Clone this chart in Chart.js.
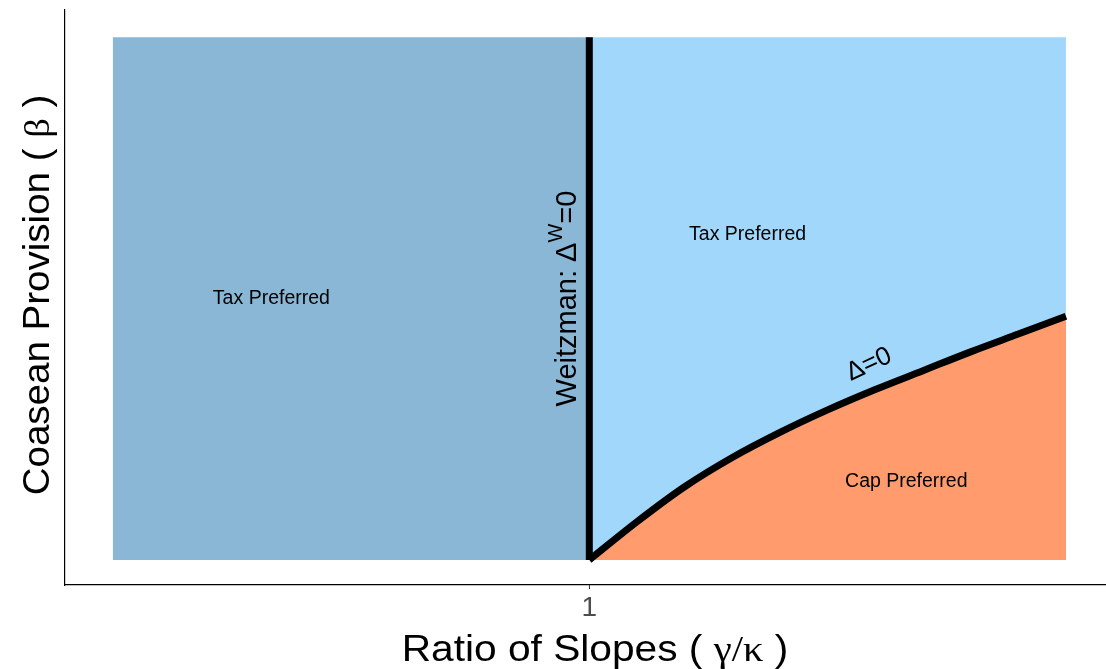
<!DOCTYPE html>
<html>
<head>
<meta charset="utf-8">
<title>Tax vs Cap</title>
<script src="https://cdn.jsdelivr.net/npm/chart.js@4.4.1/dist/chart.umd.min.js"></script>
<style>
  body { margin: 0; background: #fff; }
  #grafico { display: block; }
</style>
</head>
<body>
<canvas id="grafico" width="1106" height="669"></canvas>
<script>
// regiones del diagrama (x = gamma/kappa, y = beta)
const regionIzqX = [0, 1];
const regionDerX = [1, 2];
const techoRegion = 1;

// frontera Delta = 0
const curvaX = [1.0, 1.1, 1.2, 1.3, 1.4, 1.5, 1.6, 1.7, 1.8, 1.9, 2.0];
const curvaY = [0.0, 0.073, 0.140, 0.196, 0.244, 0.287, 0.326, 0.362, 0.398, 0.432, 0.466];

// linea de Weitzman
const weitzmanX = [1, 1];
const weitzmanY = [0, 1];

const ticksX = [1];

// etiquetas dentro del grafico: [texto, x, y]
const etiquetas = [
    ['Tax Preferred', 0.333, 0.499],
    ['Tax Preferred', 1.332, 0.623],
    ['Cap Preferred', 1.665, 0.149]
];

const colorIzq = '#8AB7D6';
const colorDer = '#A0D7FB';
const colorCap = '#FF9B6D';

const SANS = '"Liberation Sans", Arial, sans-serif';
const SERIF = '"Liberation Serif", "DejaVu Serif", serif';

// dibuja trozos de texto con fuentes distintas uno tras otro, centrados en (cx, cy)
function textoMixto(ctx, trozos, cx, cy, sx = 1) {
    let total = 0;
    trozos.forEach(t => { ctx.font = t.font; total += ctx.measureText(t.txt).width; });
    ctx.save();
    ctx.translate(cx, cy);
    ctx.scale(sx, 1);
    let x = -total / 2;
    trozos.forEach(t => {
        ctx.font = t.font;
        ctx.fillText(t.txt, x, t.dy || 0);
        x += ctx.measureText(t.txt).width;
    });
    ctx.restore();
}

const pluginTextos = {
    id: 'textos',
    afterDatasetsDraw(chart) {
        const { ctx, scales: { x, y } } = chart;
        ctx.save();
        ctx.fillStyle = '#000';
        ctx.textAlign = 'left';
        ctx.textBaseline = 'middle';

        etiquetas.forEach(e => {
            textoMixto(ctx, [{ txt: e[0], font: '19.5px ' + SANS }],
                x.getPixelForValue(e[1]), y.getPixelForValue(e[2]));
        });

        ctx.textBaseline = 'alphabetic';

        // Weitzman: Delta^W = 0, vertical junto a la linea
        ctx.save();
        ctx.translate(x.getPixelForValue(1) - 24, y.getPixelForValue(0.5));
        ctx.rotate(-Math.PI / 2);
        textoMixto(ctx, [
            { txt: 'Weitzman: \u0394', font: '29px ' + SANS },
            { txt: 'W', font: '20px ' + SANS, dy: -14 },
            { txt: '=0', font: '29px ' + SANS }
        ], 0, 11);
        ctx.restore();

        // Delta = 0 sobre la curva
        ctx.save();
        ctx.translate(x.getPixelForValue(1.585), y.getPixelForValue(0.377));
        ctx.rotate(-25 * Math.PI / 180);
        textoMixto(ctx, [{ txt: '\u0394=0', font: '26px ' + SANS }], 0, 9);
        ctx.restore();

        // titulos de ejes
        textoMixto(ctx, [
            { txt: 'Ratio of Slopes ( ', font: '36px ' + SANS },
            { txt: '\u03B3/\u03BA', font: '36px ' + SERIF },
            { txt: ' )', font: '36px ' + SANS }
        ], 595, 661, 1.13);

        ctx.save();
        ctx.translate(49, 295);
        ctx.rotate(-Math.PI / 2);
        textoMixto(ctx, [
            { txt: 'Coasean Provision ( ', font: '36px ' + SANS },
            { txt: '\u03B2', font: '36px ' + SERIF },
            { txt: ' )', font: '36px ' + SANS }
        ], 0, 0, 1.07);
        ctx.restore();

        ctx.restore();
    }
};

const ctx = document.getElementById('grafico').getContext('2d');
new Chart(ctx, {
    type: 'line',
    data: {
        datasets: [
            {
                label: 'izq',
                data: regionIzqX.map(v => ({ x: v, y: techoRegion })),
                borderWidth: 0,
                pointRadius: 0,
                backgroundColor: colorIzq,
                fill: 'origin',
                order: 5
            },
            {
                label: 'der',
                data: regionDerX.map(v => ({ x: v, y: techoRegion })),
                borderWidth: 0,
                pointRadius: 0,
                backgroundColor: colorDer,
                fill: 'origin',
                order: 4
            },
            {
                label: 'delta',
                data: curvaX.map((v, i) => ({ x: v, y: curvaY[i] })),
                borderColor: '#000',
                borderWidth: 7,
                pointRadius: 0,
                cubicInterpolationMode: 'monotone',
                backgroundColor: colorCap,
                fill: 'origin',
                order: 2
            },
            {
                label: 'weitzman',
                data: weitzmanX.map((v, i) => ({ x: v, y: weitzmanY[i] })),
                borderColor: '#000',
                borderWidth: 7,
                pointRadius: 0,
                fill: false,
                order: 1
            }
        ]
    },
    options: {
        responsive: false,
        animation: false,
        layout: { padding: { top: 10, right: 0, left: 0, bottom: 0 } },
        plugins: {
            legend: { display: false },
            tooltip: { enabled: false }
        },
        scales: {
            x: {
                type: 'linear',
                min: -0.1,
                max: 2.084,
                afterBuildTicks: s => { s.ticks = ticksX.map(v => ({ value: v })); },
                afterFit: s => { s.height = 84; },
                grid: { drawOnChartArea: false, drawTicks: true, tickLength: 4, color: '#333' },
                border: { display: true, color: '#000', width: 1.2 },
                ticks: { color: '#4D4D4D', font: { family: SANS, size: 28 }, padding: 2, maxRotation: 0 }
            },
            y: {
                type: 'linear',
                min: -0.048,
                max: 1.052,
                afterFit: s => { s.width = 65; },
                grid: { display: false },
                border: { display: true, color: '#000', width: 1.2 },
                ticks: { display: false }
            }
        }
    },
    plugins: [pluginTextos]
});
</script>
</body>
</html>
